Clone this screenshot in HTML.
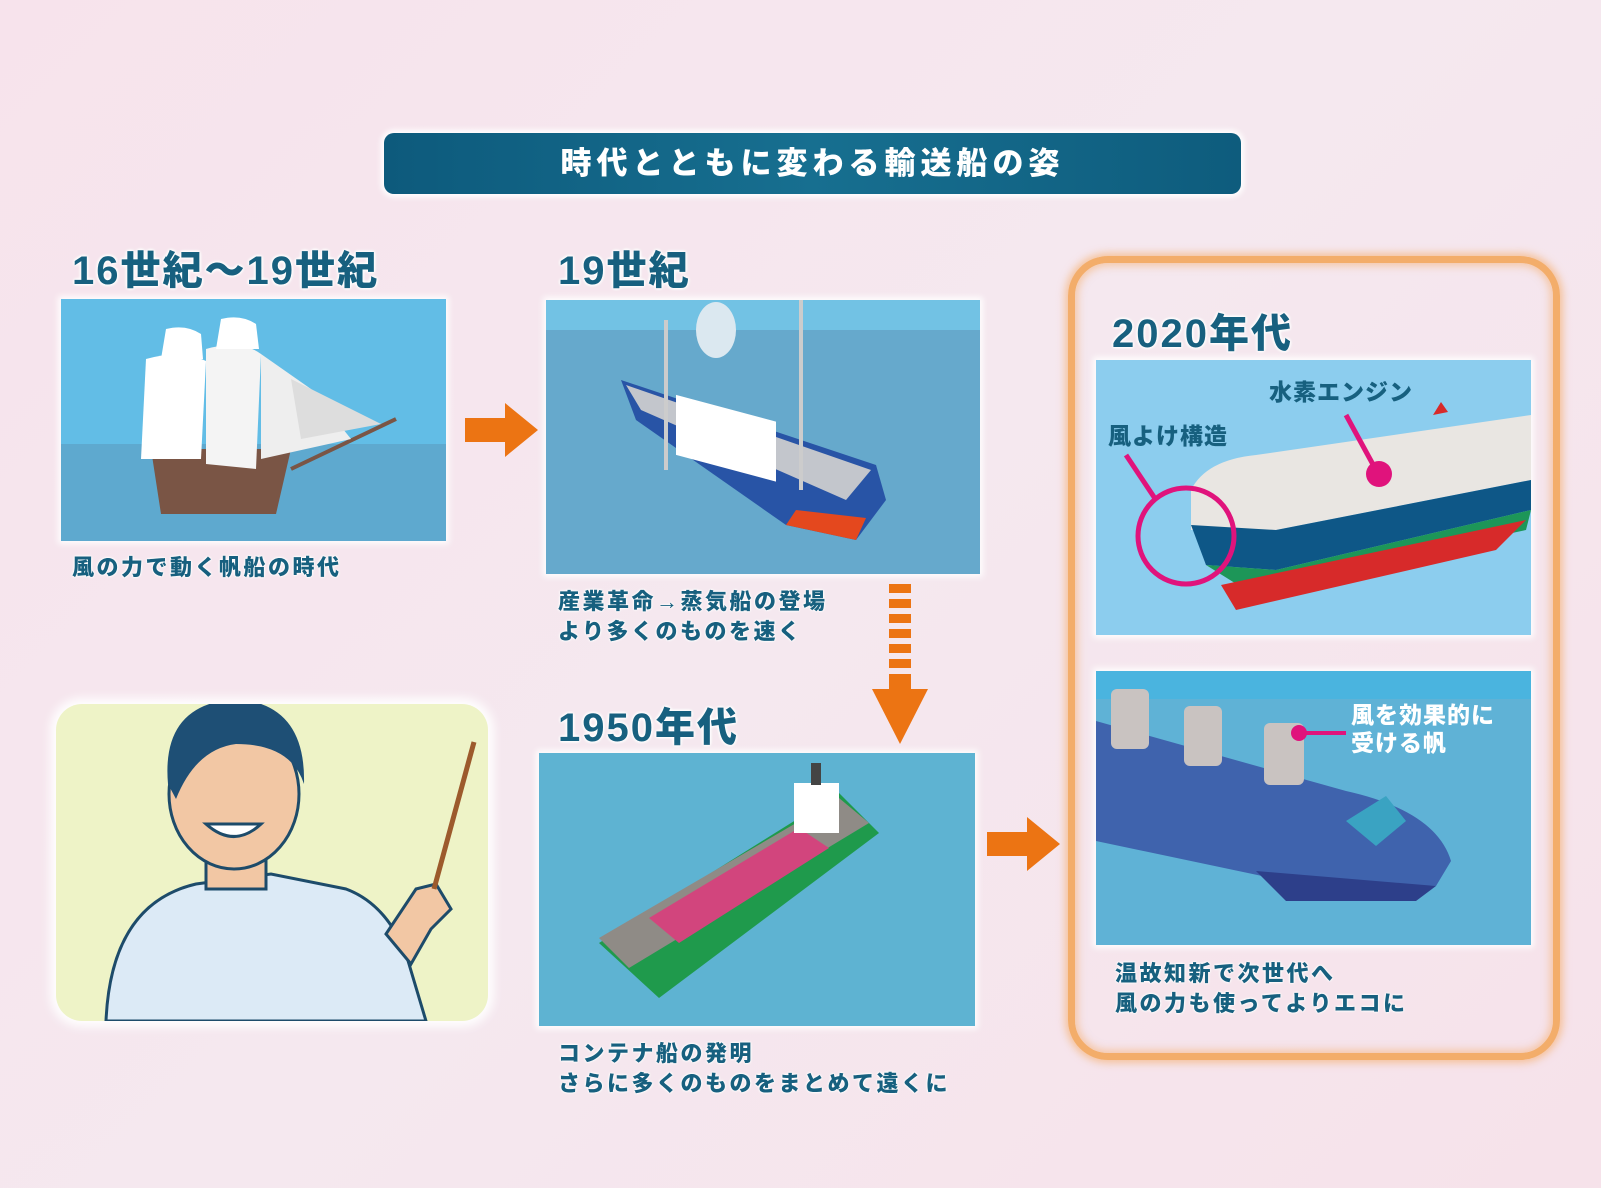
<!DOCTYPE html>
<html><head><meta charset="utf-8">
<style>
*{margin:0;padding:0;box-sizing:border-box}
body{width:1601px;height:1188px;overflow:hidden;background:linear-gradient(135deg,#f7e3ec 0%,#f5e8ef 50%,#f6e2ea 100%);font-family:"Liberation Sans","Noto Sans CJK JP",sans-serif;position:relative}
.a{position:absolute}
.h{color:#17607f;font-weight:900;font-size:40px;text-shadow:0 0 3px #fff,0 0 3px #fff,0 0 3px #fff,0 0 4px #fff;letter-spacing:2px}
.c{color:#17607f;font-weight:900;font-size:22px;line-height:30px;text-shadow:0 0 2px #fff,0 0 2px #fff,0 0 3px #fff;letter-spacing:2.5px}
.p{box-shadow:0 0 6px 3px rgba(255,255,255,.9);overflow:hidden}
</style></head><body>

<div class="a" style="left:384px;top:133px;width:857px;height:61px;border-radius:10px;background:linear-gradient(90deg,#0d5a7c,#176f90 50%,#0e5c7d);box-shadow:0 0 6px 3px #fff;color:#fff;font-weight:900;font-size:31px;text-align:center;line-height:61px;letter-spacing:5px">時代とともに変わる輸送船の姿</div>

<div class="a h" style="left:72px;top:238px">16世紀〜19世紀</div>
<div class="a h" style="left:558px;top:238px">19世紀</div>
<div class="a h" style="left:558px;top:695px">1950年代</div>
<div class="a h" style="left:1112px;top:301px">2020年代</div>

<!-- orange frame -->
<div class="a" style="left:1068px;top:256px;width:492px;height:804px;border:7px solid #f3ad6a;border-radius:40px;box-shadow:0 0 8px 3px rgba(245,170,100,.6),inset 0 0 8px 3px rgba(245,170,100,.5)"></div>

<!-- panel1 -->
<div class="a p" style="left:61px;top:299px;width:385px;height:242px">
<svg width="385" height="242"><rect width="385" height="145" fill="#62bde6"/><rect y="145" width="385" height="97" fill="#5ea9cf"/>
<path d="M90 150 L230 150 L215 215 L100 215 Z" fill="#7a5545"/>
<line x1="230" y1="170" x2="335" y2="120" stroke="#7a5545" stroke-width="4"/>
<path d="M85 60 Q120 50 145 62 L140 160 L80 160 Z" fill="#fff"/>
<path d="M145 50 Q180 40 200 55 L195 170 L145 165 Z" fill="#f4f4f4"/>
<path d="M200 55 L250 90 L290 140 L200 160 Z" fill="#eee"/>
<path d="M105 30 Q125 25 140 35 L142 60 L100 60Z" fill="#fff"/><path d="M160 20 Q180 15 195 25 L198 50 L155 50Z" fill="#fff"/>
<path d="M230 80 L320 125 L240 140 Z" fill="#ddd"/></svg></div>
<div class="a c" style="left:72px;top:553px">風の力で動く帆船の時代</div>

<!-- arrow1 -->
<svg class="a" style="left:465px;top:403px" width="74" height="54"><path d="M0 15 H40 V0 L73 27 L40 54 V39 H0 Z" fill="#ec7413"/></svg>

<!-- panel2 -->
<div class="a p" style="left:546px;top:300px;width:434px;height:274px">
<svg width="434" height="274"><rect width="434" height="274" fill="#66a9cc"/><rect width="434" height="30" fill="#72c2e4"/>
<path d="M75 80 L330 165 L340 200 L310 240 L240 225 L90 120 Z" fill="#2854a6"/>
<path d="M240 225 L310 240 L320 218 L250 210Z" fill="#e4481e"/>
<path d="M80 85 L325 170 L300 200 L95 110 Z" fill="#c3c6cc"/>
<rect x="130" y="60" width="100" height="60" fill="#fff" transform="skewY(15)"/>
<line x1="120" y1="20" x2="120" y2="170" stroke="#ccc" stroke-width="4"/><line x1="255" y1="0" x2="255" y2="190" stroke="#ccc" stroke-width="4"/>
<ellipse cx="170" cy="30" rx="20" ry="28" fill="#dbe8f0"/></svg></div>
<div class="a c" style="left:558px;top:587px">産業革命→蒸気船の登場<br>より多くのものを速く</div>

<!-- dashed down arrow -->
<svg class="a" style="left:872px;top:584px" width="56" height="160">
<g fill="#ec7413"><rect x="17" y="0" width="22" height="9"/><rect x="17" y="15" width="22" height="9"/><rect x="17" y="30" width="22" height="9"/><rect x="17" y="45" width="22" height="9"/><rect x="17" y="60" width="22" height="9"/><rect x="17" y="75" width="22" height="9"/><rect x="17" y="90" width="22" height="15"/><path d="M0 105 H56 L28 160 Z"/></g></svg>

<!-- panel3 -->
<div class="a p" style="left:539px;top:753px;width:436px;height:273px">
<svg width="436" height="273"><rect width="436" height="273" fill="#5eb3d2"/>
<path d="M60 190 L300 40 L340 80 L120 245 Z" fill="#1f9a4c"/>
<path d="M60 185 L300 45 L330 70 L90 215 Z" fill="#8f8b86"/>
<path d="M110 165 L260 75 L290 95 L140 190 Z" fill="#d2457d"/>
<rect x="255" y="30" width="45" height="50" fill="#fff"/><rect x="272" y="10" width="10" height="22" fill="#444"/></svg></div>
<div class="a c" style="left:558px;top:1039px">コンテナ船の発明<br>さらに多くのものをまとめて遠くに</div>

<!-- arrow3 -->
<svg class="a" style="left:987px;top:817px" width="74" height="54"><path d="M0 15 H40 V0 L73 27 L40 54 V39 H0 Z" fill="#ec7413"/></svg>

<!-- panel4 -->
<div class="a p" style="left:1096px;top:360px;width:435px;height:275px">
<svg width="435" height="275"><rect width="435" height="275" fill="#8ccdee"/>
<path d="M95 130 Q110 100 160 95 L435 55 L435 120 L180 170 L95 170 Z" fill="#e9e6e2"/>
<path d="M95 165 L180 170 L435 120 L435 150 L180 210 L110 205 Z" fill="#0e5787"/>
<path d="M110 205 L180 210 L435 150 L430 170 L150 230 Z" fill="#1d9658"/>
<path d="M125 225 L430 160 L400 190 L140 250 Z" fill="#d72a2a"/>
<path d="M337 55 L345 42 L352 52 Z" fill="#d72a2a"/>
<line x1="30" y1="95" x2="60" y2="140" stroke="#e0137c" stroke-width="5"/>
<circle cx="90" cy="176" r="48" fill="none" stroke="#e0137c" stroke-width="5"/>
<line x1="250" y1="55" x2="280" y2="110" stroke="#e0137c" stroke-width="5"/><circle cx="283" cy="114" r="13" fill="#e0137c"/>
<text x="12" y="84" font-size="23" font-weight="900" fill="#17607f" letter-spacing="1" font-family="Liberation Sans,Noto Sans CJK JP,sans-serif">風よけ構造</text>
<text x="173" y="40" font-size="23" font-weight="900" fill="#17607f" letter-spacing="1" font-family="Liberation Sans,Noto Sans CJK JP,sans-serif">水素エンジン</text></svg></div>

<!-- panel5 -->
<div class="a p" style="left:1096px;top:671px;width:435px;height:274px">
<svg width="435" height="274"><rect width="435" height="274" fill="#5fb2d6"/><rect width="435" height="28" fill="#4ab4df"/>
<path d="M0 50 L250 120 Q340 140 355 190 L340 215 L190 210 L0 170 Z" fill="#3f63ad"/>
<path d="M160 200 L340 215 L320 230 L190 230Z" fill="#2d3f8a"/>
<path d="M250 150 L290 125 L310 150 L280 175Z" fill="#3aa3c2"/>
<rect x="15" y="18" width="38" height="60" rx="6" fill="#c9c3c1"/><rect x="88" y="35" width="38" height="60" rx="6" fill="#c9c3c1"/><rect x="168" y="52" width="40" height="62" rx="6" fill="#c9c3c1"/>
<line x1="203" y1="62" x2="250" y2="62" stroke="#e0137c" stroke-width="4"/><circle cx="203" cy="62" r="8" fill="#e0137c"/>
<text x="255" y="52" font-size="23" font-weight="900" fill="#fff" letter-spacing="1" font-family="Liberation Sans,Noto Sans CJK JP,sans-serif">風を効果的に</text>
<text x="255" y="80" font-size="23" font-weight="900" fill="#fff" letter-spacing="1" font-family="Liberation Sans,Noto Sans CJK JP,sans-serif">受ける帆</text></svg></div>
<div class="a c" style="left:1115px;top:959px">温故知新で次世代へ<br>風の力も使ってよりエコに</div>

<!-- teacher -->
<div class="a" style="left:56px;top:704px;width:432px;height:317px;border-radius:26px;background:#eef3c7;box-shadow:0 0 10px 6px rgba(255,255,255,.95);overflow:hidden">
<svg width="432" height="317">
<path d="M50 317 Q55 200 140 180 L215 170 L290 185 Q330 200 350 250 L370 317 Z" fill="#dceaf6" stroke="#1d4b6a" stroke-width="3"/>
<path d="M330 230 L360 185 L380 180 L395 205 L375 225 L355 260Z" fill="#f2c7a4" stroke="#1d4b6a" stroke-width="3"/>
<line x1="378" y1="185" x2="418" y2="38" stroke="#9c5a2c" stroke-width="5"/>
<rect x="150" y="140" width="60" height="45" fill="#f2c7a4" stroke="#1d4b6a" stroke-width="3"/>
<ellipse cx="178" cy="90" rx="65" ry="75" fill="#f2c7a4" stroke="#1d4b6a" stroke-width="3"/>
<path d="M112 80 Q105 0 180 -5 Q250 0 248 80 Q235 40 180 40 Q140 45 120 95Z" fill="#1e4f75"/>
<path d="M150 120 Q178 145 205 120 Z" fill="#fff" stroke="#1d4b6a" stroke-width="3"/></svg></div>

</body></html>
